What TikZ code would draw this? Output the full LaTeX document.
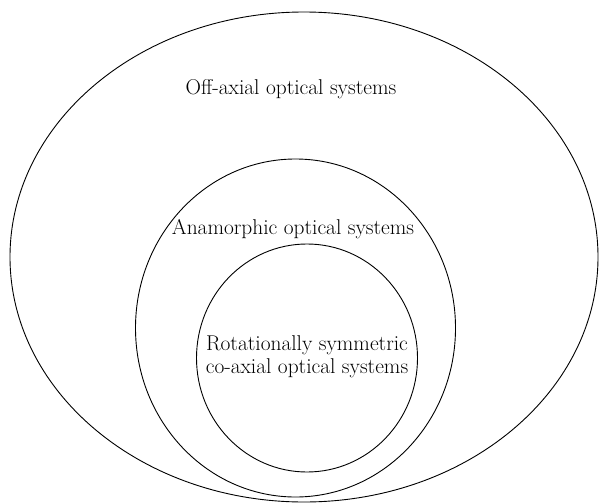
\documentclass[tikz,border=0pt]{standalone}
\usetikzlibrary{positioning}

\tikzset{
	set/.style = {line width=0.9pt, black},
	setlabel/.style = {font=\fontsize{21.4}{23}\selectfont, align=center, inner sep=0pt}
}

\begin{document}
\begin{tikzpicture}[x=1pt, y=-1pt]
			\useasboundingbox (0,0) rectangle (599,503);
			
			% the three nested sets
			\draw[set] (304,257) ellipse (294 and 245);
			\draw[set] (295.5,328) ellipse (160 and 169);
			\draw[set] (307,358) ellipse (110.5 and 114);
			
			\node[setlabel] (offaxial) at (291,89) {Off-axial optical systems};
			\node[setlabel] (anamorphic) at (293,229) {Anamorphic optical systems};
			\node[setlabel] (coaxial) at (307,357) {Rotationally symmetric\\co-axial optical systems};
		
		\end{tikzpicture}
\end{document}
